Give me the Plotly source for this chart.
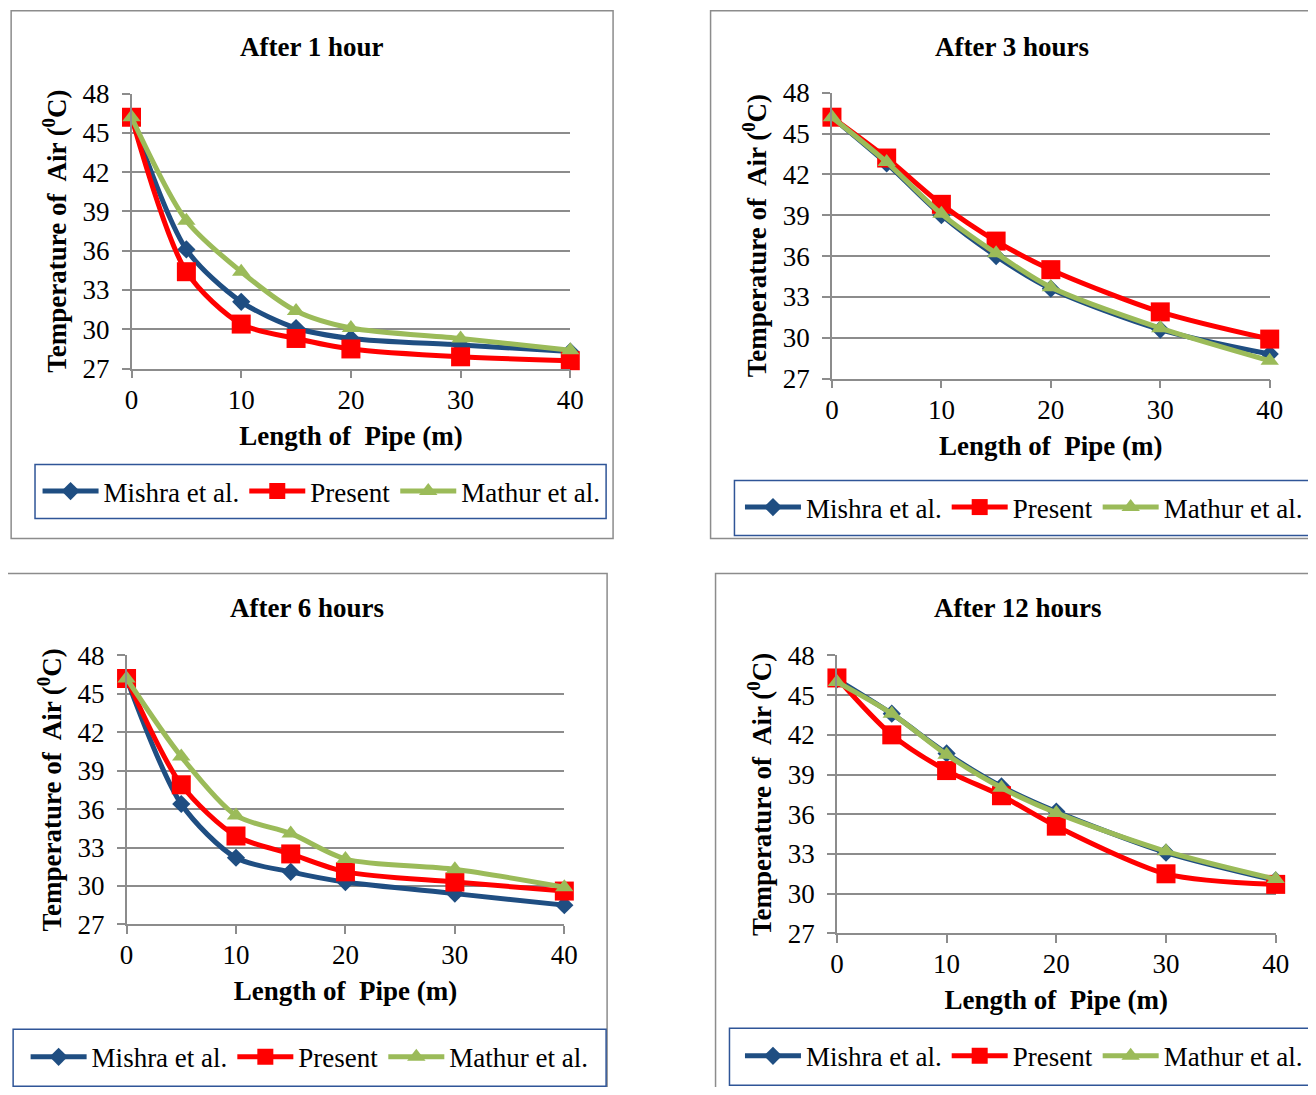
import plotly.graph_objects as go

x_length = [0, 5, 10, 15, 20, 30, 40]

panel_titles = ["After 1 hour", "After 3 hours", "After 6 hours", "After 12 hours"]
series_names = ["Mishra et al.", "Present", "Mathur et al."]

h1_mishra = [46.2, 36.1, 32.1, 30.1, 29.3, 28.8, 28.3]
h1_present = [46.2, 34.4, 30.4, 29.3, 28.5, 27.9, 27.6]
h1_mathur = [46.2, 38.3, 34.4, 31.4, 30.1, 29.3, 28.4]

h3_mishra = [46.2, 42.8, 39.0, 36.0, 33.6, 30.6, 28.8]
h3_present = [46.2, 43.2, 39.8, 37.1, 35.0, 31.9, 29.9]
h3_mathur = [46.2, 42.9, 39.1, 36.2, 33.7, 30.7, 28.3]

h6_mishra = [46.2, 36.4, 32.2, 31.1, 30.3, 29.4, 28.5]
h6_present = [46.2, 37.9, 33.9, 32.5, 31.1, 30.3, 29.6]
h6_mathur = [46.2, 40.1, 35.5, 34.1, 32.1, 31.3, 29.9]

h12_mishra = [46.2, 43.6, 40.6, 38.1, 36.2, 33.1, 31.0]
h12_present = [46.3, 42.0, 39.3, 37.4, 35.1, 31.5, 30.7]
h12_mathur = [46.0, 43.6, 40.5, 38.0, 36.1, 33.2, 31.1]

y_ticks = [27, 30, 33, 36, 39, 42, 45, 48]
x_ticks = [0, 10, 20, 30, 40]

# page body has an 8px margin; keep the figure inside the 1316x1095 window
OFF = 8
W, H = 1316 - 2 * OFF, 1095 - 2 * OFF
# observed mapping from page pixels to the photographed picture
SX, CX = 0.985, 6.0
SY, CY = 0.9726, 14.5
FONT = "Liberation Serif"
FS = 27
colors = ["#1F4E82", "#FF0000", "#9BBB59"]
symbols = ["diamond", "square", "triangle-up"]
msizes = [14, 19, 16]

panels = [
    (h1_mishra, h1_present, h1_mathur),
    (h3_mishra, h3_present, h3_mathur),
    (h6_mishra, h6_present, h6_mathur),
    (h12_mishra, h12_present, h12_mathur),
]

# geometry in picture pixels: plot area (x0, x1, ytop, ybottom), outer box, legend box, title, legend centre
geo = [
    dict(plot=(131, 572, 93, 368), box=(10, 615, 10, 538), leg=(34, 608, 464, 518), title=(312, 46), lc=(322, 491)),
    dict(plot=(835, 1275, 92, 378), box=(713, 1340, 10, 538), leg=(737, 1340, 480, 535), title=(1016, 46), lc=(1028, 507)),
    dict(plot=(126, 566, 655, 924), box=(4, 609, 573, 1130), leg=(12, 608, 1029, 1086), title=(307, 608), lc=(310, 1057)),
    dict(plot=(840, 1281, 655, 933), box=(718, 1340, 573, 1130), leg=(732, 1340, 1028, 1085), title=(1021, 608), lc=(1028, 1056)),
]

def px(xp):
    page = (xp - CX) / SX
    return (page - OFF) / W

def py(yp):
    page = (yp - CY) / SY
    return 1 - (page - OFF) / H

fig = go.Figure()
shapes = []
annotations = []
layout_axes = {}

for i, (data, g) in enumerate(zip(panels, geo)):
    n = i + 1
    xa = "x" if n == 1 else f"x{n}"
    ya = "y" if n == 1 else f"y{n}"
    leg = "legend" if n == 1 else f"legend{n}"
    for j in range(3):
        fig.add_trace(go.Scatter(
            x=x_length, y=data[j], name=series_names[j], mode="lines+markers",
            line=dict(color=colors[j], width=5, shape="spline", smoothing=0.8),
            marker=dict(symbol=symbols[j], size=msizes[j], color=colors[j]),
            xaxis=xa, yaxis=ya, legend=leg, showlegend=True, cliponaxis=False,
        ))
    x0, x1, yt, yb = g["plot"]
    axis_common = dict(
        showline=True, linecolor="#8C8C8C", linewidth=1.5, ticks="outside",
        tickcolor="#8C8C8C", ticklen=8, tickwidth=1.5,
        tickfont=dict(family=FONT, size=FS, color="black"),
        zeroline=False,
    )
    layout_axes["xaxis" if n == 1 else f"xaxis{n}"] = dict(
        domain=[px(x0), px(x1)], anchor=ya, range=[0, 40], tickvals=x_ticks,
        showgrid=False, ticklabelstandoff=-2,
        title=dict(text="<b>Length of  Pipe (m)</b>", font=dict(family=FONT, size=FS, color="black"), standoff=12),
        **axis_common,
    )
    layout_axes["yaxis" if n == 1 else f"yaxis{n}"] = dict(
        domain=[py(yb), py(yt)], anchor=xa, range=[27, 48], tickvals=y_ticks,
        showgrid=True, gridcolor="#8C8C8C", gridwidth=1.5, ticklabelstandoff=7,
        title=dict(text="<b>Temperature of  Air (<sup>0</sup>C)</b>", font=dict(family=FONT, size=FS, color="black"), standoff=8),
        **axis_common,
    )
    bx0, bx1, by0, by1 = g["box"]
    shapes.append(dict(type="rect", xref="paper", yref="paper", x0=px(bx0), x1=px(bx1), y0=py(by1), y1=py(by0),
                       line=dict(color="#8C8C8C", width=1.5), fillcolor="rgba(0,0,0,0)", layer="below"))
    lx0, lx1, ly0, ly1 = g["leg"]
    shapes.append(dict(type="rect", xref="paper", yref="paper", x0=px(lx0), x1=px(lx1), y0=py(ly1), y1=py(ly0),
                       line=dict(color="#2F5597", width=1.5), fillcolor="rgba(0,0,0,0)", layer="below"))
    tx, ty = g["title"]
    annotations.append(dict(text=f"<b>{panel_titles[i]}</b>", x=px(tx), y=py(ty), xref="paper", yref="paper",
                            showarrow=False, xanchor="center", yanchor="middle",
                            font=dict(family=FONT, size=FS, color="black")))
    lcx, lcy = g["lc"]
    layout_axes[leg] = dict(
        orientation="h", x=px(lcx), y=py(lcy), xanchor="center", yanchor="middle",
        xref="paper", yref="paper",
        font=dict(family=FONT, size=FS, color="black"), bgcolor="rgba(0,0,0,0)",
        itemwidth=56, tracegroupgap=0, itemclick=False,
    )

fig.update_layout(
    width=W, height=H, margin=dict(l=0, r=0, t=0, b=0),
    paper_bgcolor="white", plot_bgcolor="white",
    shapes=shapes, annotations=annotations, **layout_axes,
)

fig.write_html("out.html")
